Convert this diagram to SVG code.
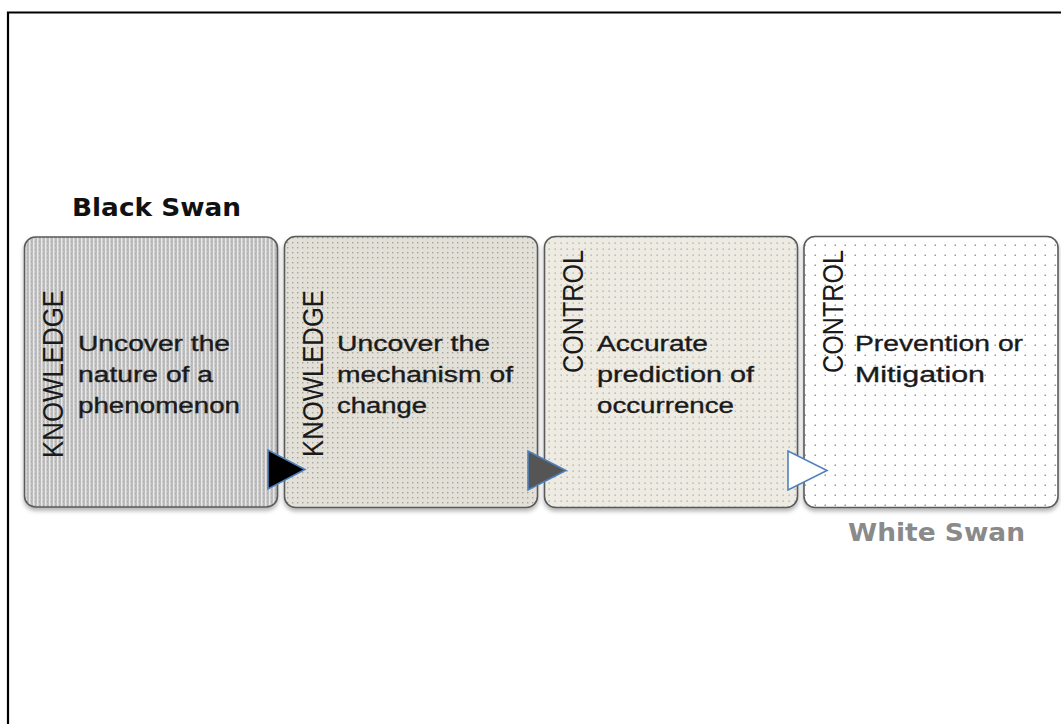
<svg xmlns="http://www.w3.org/2000/svg" width="1061" height="724" viewBox="0 0 1061 724">
  <defs>
    <style>
      .box { stroke: #5a5a5a; stroke-width: 1.6; }
      .lbl { font-family: "Liberation Sans", Arial, sans-serif; font-size: 22px; fill: #1a1a1a; stroke: #1a1a1a; stroke-width: 0.35; }
      .vlbl { font-family: "Liberation Sans", Arial, sans-serif; font-size: 25px; fill: #1a1a1a; }
      .swan { font-family: "DejaVu Sans", Verdana, sans-serif; font-weight: bold; font-size: 24px; }
      .tri { stroke: #4f81bd; stroke-width: 1.6; stroke-linejoin: miter; }
    </style>
    <!-- vertical striped fill -->
    <pattern id="stripes" width="4" height="4" patternUnits="userSpaceOnUse">
      <rect width="4" height="4" fill="#bdbdbd"/>
      <rect x="1" width="1.5" height="4" fill="#e6e6e6"/>
      <rect x="3" y="1" width="1" height="1" fill="#a8a8a8"/>
    </pattern>
    <!-- dense dotted fill -->
    <pattern id="dotsDense" width="5" height="5" patternUnits="userSpaceOnUse">
      <rect width="5" height="5" fill="#e3e0d8"/>
      <rect x="2" y="2" width="1.4" height="1.4" fill="#a5a39c"/>
    </pattern>
    <!-- medium dotted fill -->
    <pattern id="dotsMed" width="6" height="6" patternUnits="userSpaceOnUse">
      <rect width="6" height="6" fill="#eeebe3"/>
      <rect x="2.5" y="2.5" width="1.3" height="1.3" fill="#a9a8a2"/>
    </pattern>
    <!-- sparse dotted fill -->
    <pattern id="dotsSparse" width="10" height="10" patternUnits="userSpaceOnUse">
      <rect width="10" height="10" fill="#ffffff"/>
      <rect x="4.5" y="4.5" width="1.5" height="1.5" fill="#9a9a9a"/>
    </pattern>
    <filter id="shadow" x="-5%" y="-5%" width="115%" height="115%">
      <feDropShadow dx="0" dy="3" stdDeviation="2" flood-color="#000" flood-opacity="0.3"/>
    </filter>
  </defs>

  <rect width="1061" height="724" fill="#ffffff"/>
  <!-- frame (top and left edges) -->
  <path d="M8,724 V12.5 H1061" fill="none" stroke="#000" stroke-width="2.2"/>

  <text class="swan" x="72" y="216" fill="#111" textLength="169" lengthAdjust="spacingAndGlyphs">Black Swan</text>
  <text class="swan" x="848" y="541" fill="#8a8a8a" textLength="177" lengthAdjust="spacingAndGlyphs">White Swan</text>

  <g id="node-knowledge-1">
    <rect class="box" x="24.5" y="237" width="253" height="270" rx="11" fill="url(#stripes)" filter="url(#shadow)"/>
    <text class="vlbl" transform="translate(63,458) rotate(-90) scale(1,1.15)" textLength="168" lengthAdjust="spacingAndGlyphs">KNOWLEDGE</text>
    <text class="lbl" x="78" y="351" textLength="152" lengthAdjust="spacingAndGlyphs">Uncover the</text>
    <text class="lbl" x="78" y="382" textLength="135" lengthAdjust="spacingAndGlyphs">nature of a</text>
    <text class="lbl" x="78" y="413" textLength="162" lengthAdjust="spacingAndGlyphs">phenomenon</text>
  </g>

  <g id="node-knowledge-2">
    <rect class="box" x="284.5" y="236.5" width="253" height="271" rx="11" fill="url(#dotsDense)" filter="url(#shadow)"/>
    <text class="vlbl" transform="translate(323,457) rotate(-90) scale(1,1.15)" textLength="167" lengthAdjust="spacingAndGlyphs">KNOWLEDGE</text>
    <text class="lbl" x="337" y="351" textLength="153" lengthAdjust="spacingAndGlyphs">Uncover the</text>
    <text class="lbl" x="337" y="382" textLength="176" lengthAdjust="spacingAndGlyphs">mechanism  of</text>
    <text class="lbl" x="337" y="413" textLength="90" lengthAdjust="spacingAndGlyphs">change</text>
  </g>

  <g id="node-control-1">
    <rect class="box" x="544.5" y="236.5" width="253" height="271" rx="11" fill="url(#dotsMed)" filter="url(#shadow)"/>
    <text class="vlbl" transform="translate(583,373) rotate(-90) scale(1,1.15)" textLength="123" lengthAdjust="spacingAndGlyphs">CONTROL</text>
    <text class="lbl" x="597" y="351" textLength="111" lengthAdjust="spacingAndGlyphs">Accurate</text>
    <text class="lbl" x="597" y="382" textLength="157" lengthAdjust="spacingAndGlyphs">prediction of</text>
    <text class="lbl" x="597" y="413" textLength="137" lengthAdjust="spacingAndGlyphs">occurrence</text>
  </g>

  <g id="node-control-2">
    <rect class="box" x="804" y="236.5" width="254" height="271" rx="11" fill="url(#dotsSparse)" stroke="#9a9a9a" filter="url(#shadow)"/>
    <text class="vlbl" transform="translate(843,373) rotate(-90) scale(1,1.15)" textLength="123" lengthAdjust="spacingAndGlyphs">CONTROL</text>
    <text class="lbl" x="855" y="351" textLength="168" lengthAdjust="spacingAndGlyphs">Prevention or</text>
    <text class="lbl" x="855" y="382" textLength="130" lengthAdjust="spacingAndGlyphs">Mitigation</text>
  </g>

  <g id="connectors">
    <polygon class="tri" points="268,450 268,489 305,469.5" fill="#000000"/>
    <polygon class="tri" points="528,451 528,490 566,470.5" fill="#555555"/>
    <polygon class="tri" points="788,451 788,490 827,470.5" fill="#ffffff"/>
  </g>
</svg>
